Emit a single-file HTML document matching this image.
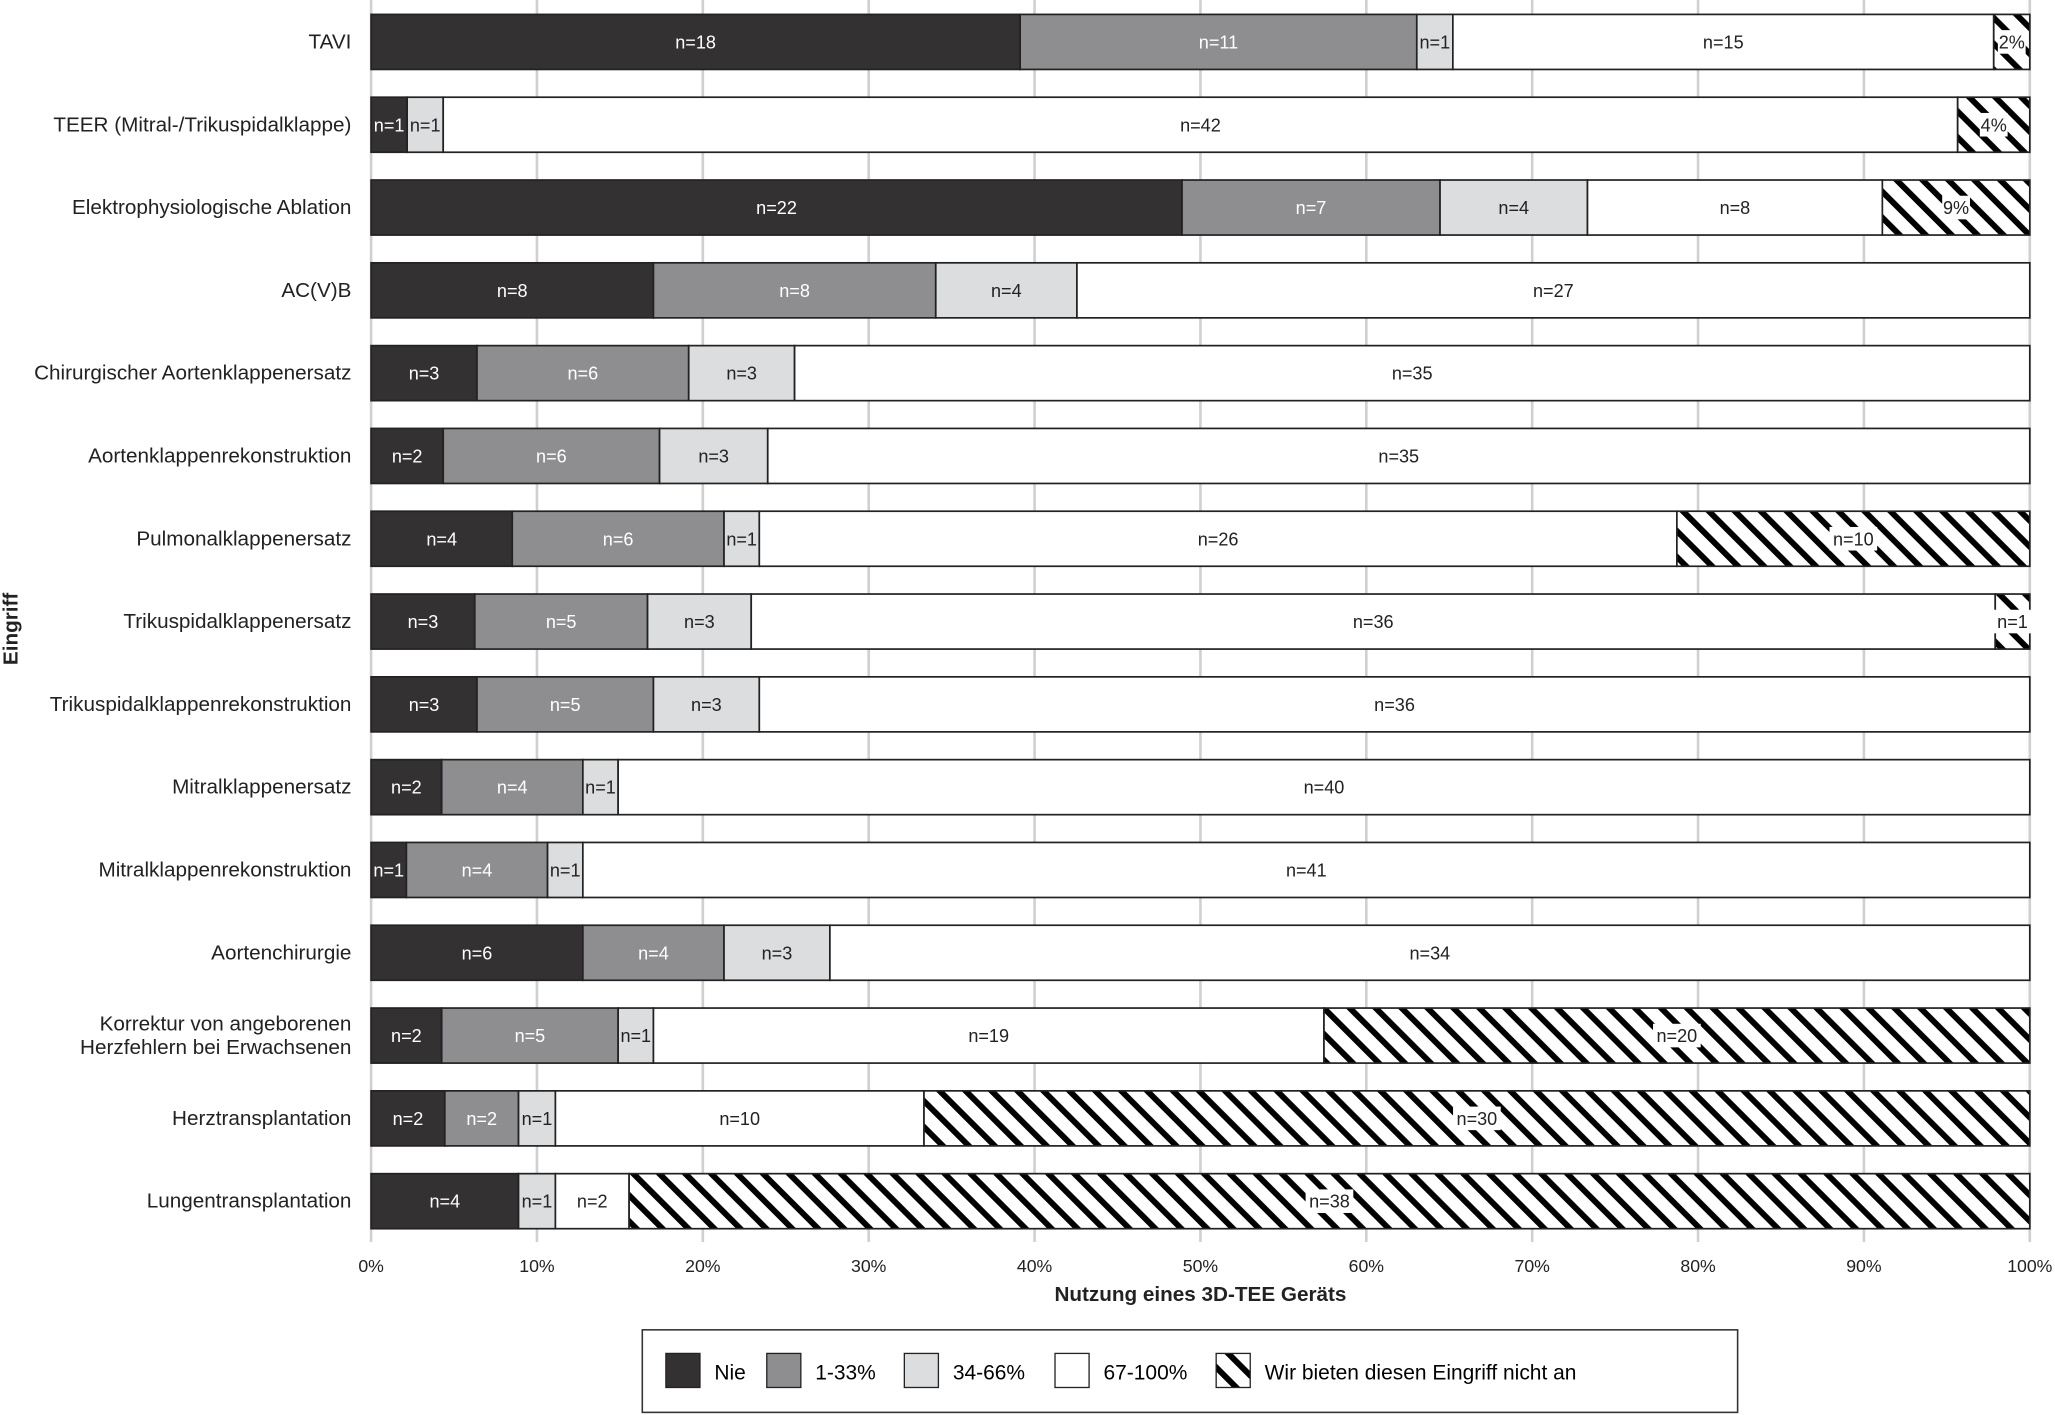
<!DOCTYPE html>
<html><head><meta charset="utf-8">
<style>
html,body{margin:0;padding:0;background:#fff;}
svg{display:block;font-family:"Liberation Sans",Arial,sans-serif;}
</style></head>
<body>
<svg id="chart" width="2055" height="1415" viewBox="0 0 1568 1080" xmlns="http://www.w3.org/2000/svg">
<defs>
<pattern id="hatch" patternUnits="userSpaceOnUse" width="14" height="14" patternTransform="rotate(-45)">
<rect width="14" height="14" fill="#fff"/>
<rect x="0" y="0" width="4.5" height="14" fill="#000"/>
</pattern>
</defs>
<g id="grid"></g>
<g id="bars"></g>
<g id="axes"></g>
<text x="916" y="993" text-anchor="middle" font-size="15.8" font-weight="bold" fill="#222">Nutzung eines 3D-TEE Geräts</text>
<text transform="translate(13,480) rotate(-90)" text-anchor="middle" font-size="15.8" font-weight="bold" fill="#222">Eingriff</text>
<g font-size="16">
<rect x="490" y="1015" width="836" height="63" fill="#fff" stroke="#333" stroke-width="1.2"/>
<g><rect x="508" y="1033" width="26" height="26" fill="#333132" stroke="#222"/><text x="545" y="1053">Nie</text></g>
<g><rect x="585" y="1033" width="26" height="26" fill="#8e8e90" stroke="#222"/><text x="622" y="1053">1-33%</text></g>
<g><rect x="690" y="1033" width="26" height="26" fill="#dcdddf" stroke="#222"/><text x="727" y="1053">34-66%</text></g>
<g><rect x="805" y="1033" width="26" height="26" fill="#fff" stroke="#222"/><text x="842" y="1053">67-100%</text></g>
<g><rect x="928" y="1033" width="26" height="26" fill="url(#hatch)" stroke="#222"/><text x="965" y="1053">Wir bieten diesen Eingriff nicht an</text></g>
</g>
</svg>
<script>
const categories = ["TAVI","TEER (Mitral-/Trikuspidalklappe)","Elektrophysiologische Ablation","AC(V)B","Chirurgischer Aortenklappenersatz","Aortenklappenrekonstruktion","Pulmonalklappenersatz","Trikuspidalklappenersatz","Trikuspidalklappenrekonstruktion","Mitralklappenersatz","Mitralklappenrekonstruktion","Aortenchirurgie","Korrektur von angeborenen|Herzfehlern bei Erwachsenen","Herztransplantation","Lungentransplantation"];
const nie    = [18,1,22,8,3,2,4,3,3,2,1,6,2,2,4];
const low    = [11,0,7,8,6,6,6,5,5,4,4,4,5,2,0];
const mid    = [1,1,4,4,3,3,1,3,3,1,1,3,1,1,1];
const high   = [15,42,8,27,35,35,26,36,36,40,41,34,19,10,2];
const notOff = [1,2,4,0,0,0,10,1,0,0,0,0,20,30,38];
const hatchLabels = ["2%","4%","9%","","","","n=10","n=1","","","","","n=20","n=30","n=38"];
const xTicks = [0,10,20,30,40,50,60,70,80,90,100];

const NS="http://www.w3.org/2000/svg";
const X0=283, X1=1549, Y0=32, ROWSTEP=63.2, BH=42;
const xScale = p => X0 + (X1-X0)*p/100;
const yScale = i => Y0 + i*ROWSTEP;
function mk(tag, attrs, parent){const e=document.createElementNS(NS,tag);for(const k in attrs)e.setAttribute(k,attrs[k]);parent.appendChild(e);return e;}

const grid=document.getElementById('grid'), bars=document.getElementById('bars'), axes=document.getElementById('axes');
xTicks.forEach(t=>{
  const l=mk('line',{x1:xScale(t),x2:xScale(t),y1:0,y2:948,stroke:'#d0d0d0','stroke-width':2},grid);
  
  
  const tx=mk('text',{x:xScale(t),y:971,'text-anchor':'middle','font-size':13.5,fill:'#222'},axes);
  tx.textContent=t+'%';
  
  
});

const fills=['#333132','#8e8e90','#dcdddf','#ffffff','url(#hatch)'];
const txtCol=['#fff','#fff','#222','#222','#222'];
const series=[nie,low,mid,high,notOff];
const segNames=['nie','1-33','34-66','67-100','nicht-angeboten'];
categories.forEach((c,i)=>{
  const total=series.reduce((s,a)=>s+a[i],0);
  const yc=yScale(i);
  let cum=0;
  const lines=c.split('|');
  const lab=mk('text',{x:268,'text-anchor':'end','font-size':15.8,fill:'#222'},axes);
  
  
  lines.forEach((ln,k)=>{const ts=mk('tspan',{x:268,y:yc+5+(k-(lines.length-1)/2)*18},lab);ts.textContent=ln;});
  series.forEach((arr,s)=>{
    const v=arr[i]; if(!v) return;
    const xa=xScale(cum/total*100), xb=xScale((cum+v)/total*100);
    cum+=v;
    const r=mk('rect',{x:xa,y:yc-BH/2,width:xb-xa,height:BH,fill:fills[s],stroke:'#222','stroke-width':1.3},bars);
    
    
    const label = s===4 ? hatchLabels[i] : 'n='+v;
    if(!label) return;
    const cx=(xa+xb)/2;
    if(s===4){
      const w=label.length*7.6+6;
      mk('rect',{x:cx-w/2,y:yc-9,width:w,height:18,fill:'#fff'},bars);
    }
    const t=mk('text',{x:cx,y:yc+5,'text-anchor':'middle','font-size':13.8,fill:txtCol[s]},bars);
    t.textContent=label;
    
    
  });
});
</script>
</body></html>
